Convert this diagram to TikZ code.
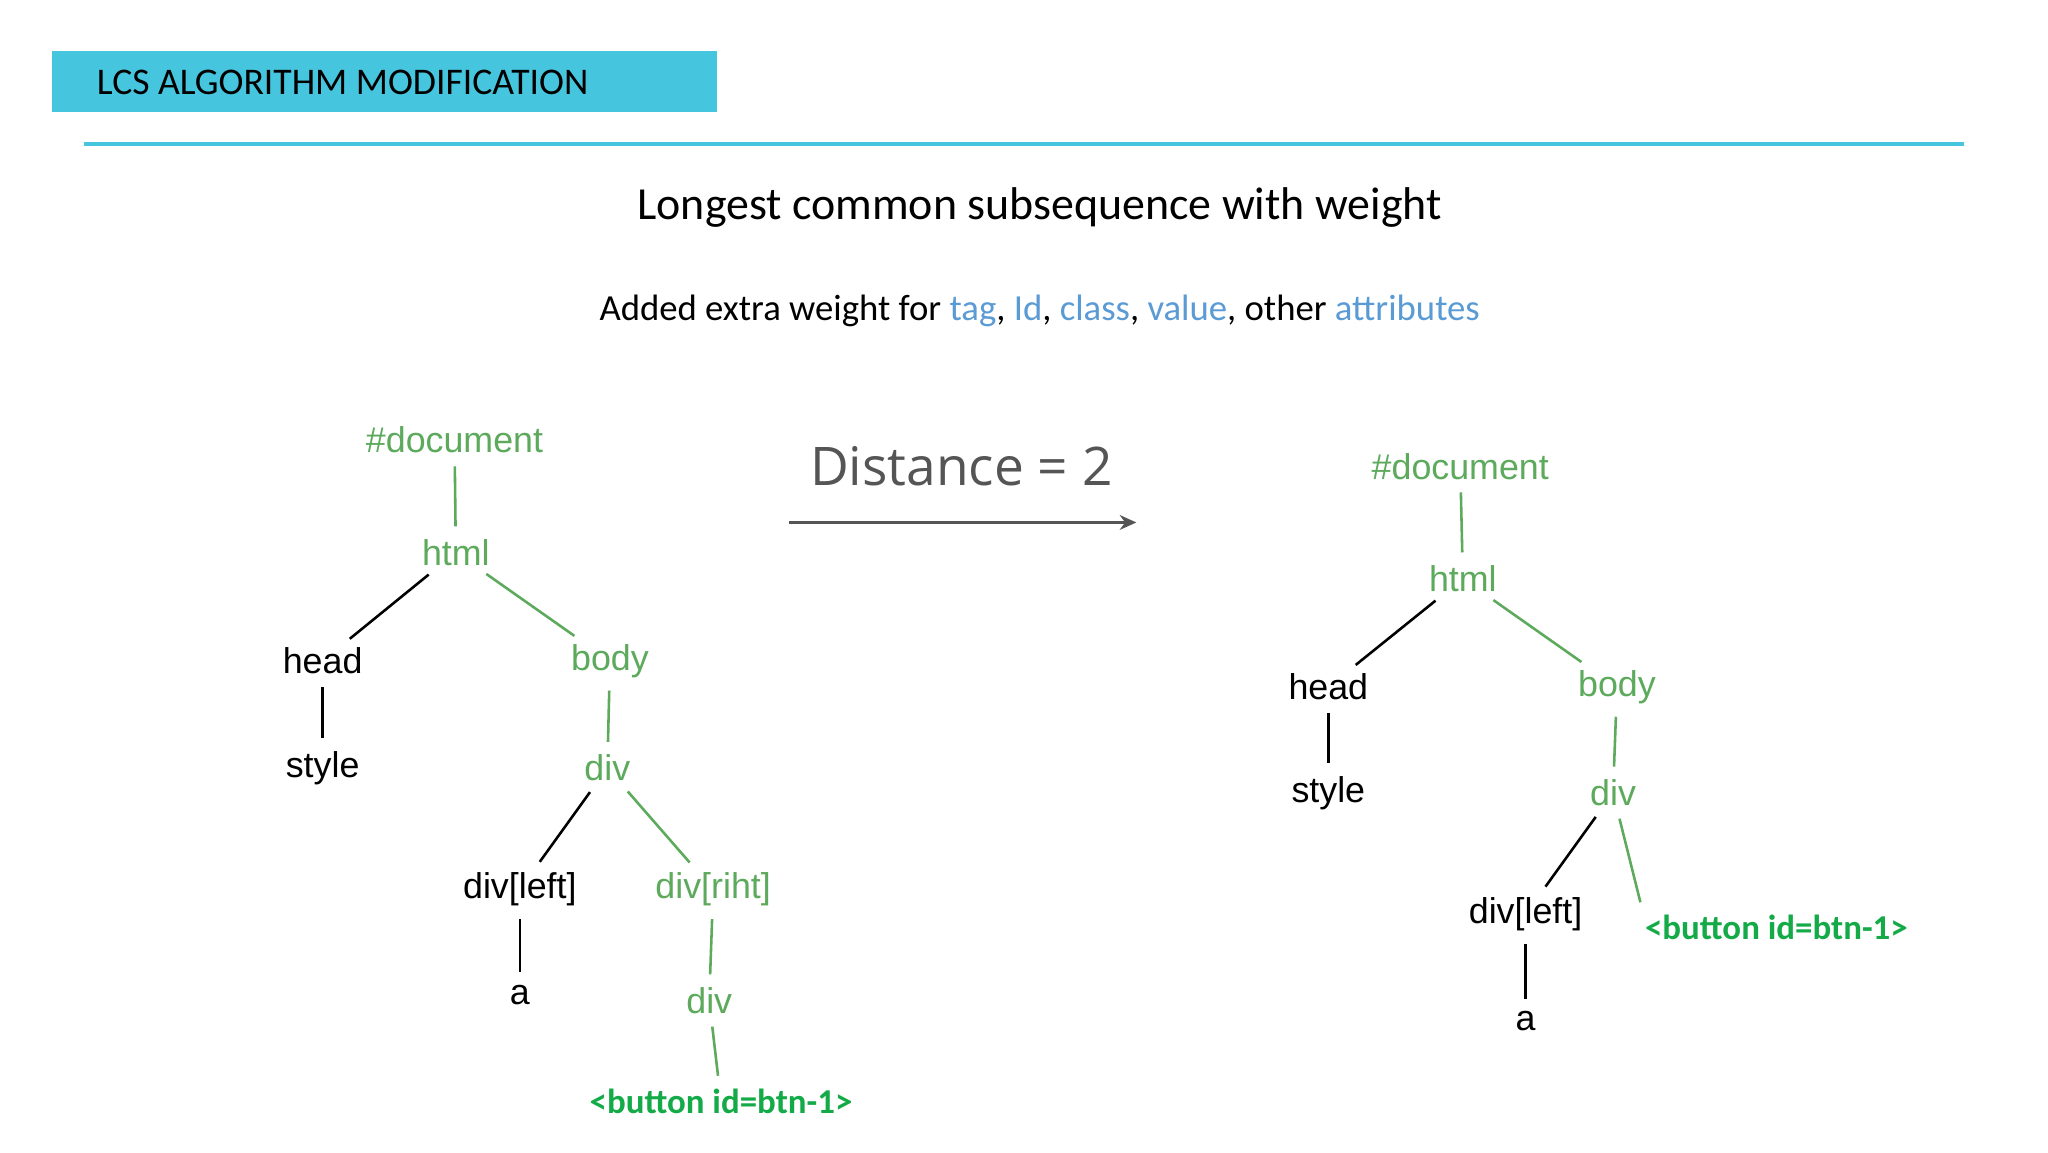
\documentclass[tikz,border=0pt]{standalone}
\usepackage{fontspec}
\setmainfont{Carlito}
\newfontfamily\arialf{Liberation Sans}
\newfontfamily\openf{Open Sans}
\usetikzlibrary{arrows.meta}
\definecolor{cyanb}{HTML}{45C6DE}
\definecolor{lgreen}{HTML}{5DAA5D}
\definecolor{bgreen}{HTML}{14AA48}
\definecolor{bluew}{HTML}{5B9BD5}
\definecolor{dgray}{HTML}{555555}
\tikzset{
 tb/.style={inner sep=2pt,font=\arialf\fontsize{39}{45}\selectfont},
 bk/.style={tb,text=black},
 gr/.style={tb,text=lgreen},
 btn/.style={inner sep=2pt,text=bgreen,font=\bfseries\fontsize{38}{44}\selectfont},
 edge/.style={line width=2.8pt,shorten <=12pt,shorten >=12pt},
 bedge/.style={edge,draw=black},
 gedge/.style={edge,draw=lgreen},
}
\begin{document}
\begin{tikzpicture}[x=0.05cm,y=-0.05cm]
\useasboundingbox (0,0) rectangle (1568,882);
\fill[white] (0,0) rectangle (1568,882);
\fill[cyanb] (40,39) rectangle (549,86);
\node[anchor=west,inner sep=0,font=\fontsize{41}{48}\selectfont] (title) at (74,63) {LCS ALGORITHM MODIFICATION};
\coordinate (l1) at (64,110); \coordinate (l2) at (1504,110);
\draw[cyanb,line width=4.2pt] (l1) -- (l2);
\node[font=\fontsize{50}{58}\selectfont] (sub) at (796,159) {Longest common subsequence with weight};
\node[font=\fontsize{40}{46}\selectfont] (sub2) at (796,238) {Added extra weight for \textcolor{bluew}{tag}, \textcolor{bluew}{Id}, \textcolor{bluew}{class}, \textcolor{bluew}{value}, other \textcolor{bluew}{attributes}};
\node[text=dgray,font=\openf\fontsize{58}{66}\selectfont] (dist) at (736,357) {Distance = 2};
\coordinate (a1) at (604,400); \coordinate (a2) at (870,400);
\draw[dgray,line width=4pt,-{Stealth[length=18pt,width=16pt]}] (a1) -- (a2);
% left tree
\node[gr] (d) at (348,337) {\#document};
\node[gr] (h) at (349,423) {html};
\node[bk] (hd) at (247,506) {head};
\node[gr] (bd) at (467,506) {body};
\node[bk] (st) at (247,588) {style};
\node[gr] (dv) at (465,588) {div};
\node[bk] (dl) at (398,681) {div[left]};
\node[gr] (dr) at (546,681) {div[riht]};
\node[bk] (aa) at (398,762) {a};
\node[gr] (d2) at (543,766) {div};
\node[btn] (bt) at (552,843) {<button id=btn-1>};
\draw[gedge] (d) -- (h);
\draw[bedge] (h) -- (hd);
\draw[gedge] (h) -- (bd);
\draw[bedge] (hd) -- (st);
\draw[gedge] (bd) -- (dv);
\draw[bedge] (dv) -- (dl);
\draw[gedge] (dv) -- (dr);
\draw[bedge] (dl) -- (aa);
\draw[gedge] (dr) -- (d2);
\draw[gedge] (d2) -- (bt);
% right tree
\node[gr] (Rd) at (1118,357) {\#document};
\node[gr] (Rh) at (1120,443) {html};
\node[bk] (Rhd) at (1017,526) {head};
\node[gr] (Rbd) at (1238,526) {body};
\node[bk] (Rst) at (1017,607) {style};
\node[gr] (Rdv) at (1235,607) {div};
\node[bk] (Rdl) at (1168,700) {div[left]};
\node[bk] (Raa) at (1168,782) {a};
\node[btn] (Rbt) at (1360,710) {<button id=btn-1>};
\draw[gedge] (Rd) -- (Rh);
\draw[bedge] (Rh) -- (Rhd);
\draw[gedge] (Rh) -- (Rbd);
\draw[bedge] (Rhd) -- (Rst);
\draw[gedge] (Rbd) -- (Rdv);
\draw[bedge] (Rdv) -- (Rdl);
\draw[gedge] (Rdv) -- (Rbt.north west);
\draw[bedge] (Rdl) -- (Raa);
\end{tikzpicture}
\end{document}
